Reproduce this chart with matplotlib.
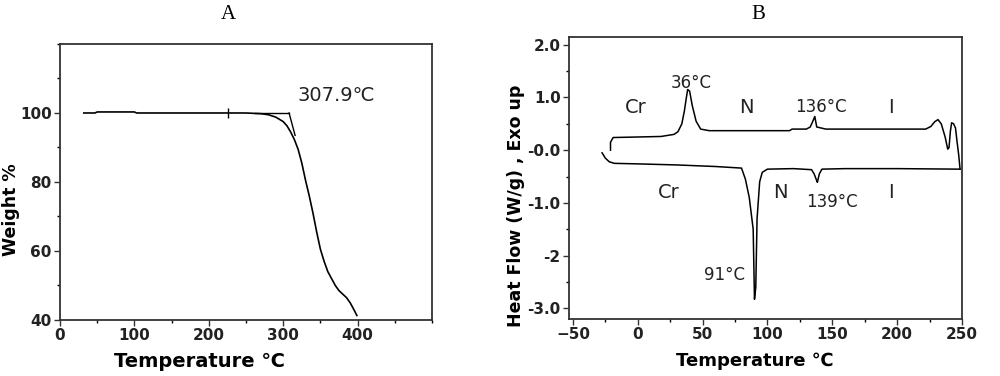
# TGA (A) and DSC (B) curves
import numpy as np
import matplotlib.pyplot as plt
from matplotlib.ticker import MultipleLocator

# --- A: TGA weight loss ---
temp_a = [32, 47, 50, 100, 103, 150, 200, 250, 270, 280, 290, 300, 305, 310, 315,
          320, 325, 330, 335, 340, 345, 350, 355, 360, 365, 370, 375, 380, 385,
          390, 395, 399]
weight_a = [100, 100, 100.3, 100.3, 100, 100, 100, 100, 99.8, 99.5, 98.8, 97.5, 96.3,
            94.5, 92.3, 89.5, 85.5, 80.5, 76, 71, 65.5, 60.5, 57, 54, 52, 50, 48.5,
            47.5, 46.5, 45, 43, 41.3]
onset_base_x = [262, 307.9]
onset_base_y = [100, 100]
onset_tan_x = [307.9, 316]
onset_tan_y = [100, 93.5]
onset_label = '307.9℃'

# --- B: DSC heat flow ---
heat_x = [-21, -21, -19, 0, 18, 28, 31, 34, 36, 37.5, 38.5, 40, 42, 45, 48.5, 55, 80,
          117, 119, 130, 133, 135, 136.5, 138, 145, 180, 222, 226, 229, 231.5, 234,
          237, 239, 240, 241, 242, 243.5, 245, 246, 247.5, 248.5]
heat_y = [0.0, 0.15, 0.24, 0.25, 0.26, 0.30, 0.35, 0.50, 0.75, 1.0, 1.15, 1.12, 0.85,
          0.55, 0.40, 0.37, 0.37, 0.37, 0.40, 0.40, 0.44, 0.55, 0.64, 0.44, 0.40, 0.40,
          0.40, 0.45, 0.54, 0.58, 0.50, 0.25, 0.02, 0.05, 0.35, 0.52, 0.50, 0.42,
          0.20, -0.10, -0.36]
cool_x = [-27.5, -25, -22, -18, 0, 30, 60, 80, 83, 86, 88, 89, 90, 91, 92, 94, 96,
          100, 120, 134, 136, 138, 138.5, 140, 142, 160, 200, 248.5]
cool_y = [-0.05, -0.15, -0.22, -0.25, -0.26, -0.28, -0.31, -0.34, -0.55, -0.9, -1.3,
          -1.5, -2.83, -2.6, -1.3, -0.6, -0.42, -0.36, -0.35, -0.37, -0.45, -0.58,
          -0.61, -0.45, -0.36, -0.35, -0.35, -0.36]
labels_b = [('36°C', 41.5, 1.28), ('Cr', -1.5, 0.81), ('N', 84, 0.81),
            ('136°C', 141.5, 0.81), ('I', 195, 0.81),
            ('Cr', 24, -0.80), ('N', 110, -0.80), ('139°C', 150, -0.99),
            ('I', 195, -0.80), ('91°C', 67, -2.36)]
yticks_b = [2.0, 1.0, 0.0, -1.0, -2.0, -3.0]
yticklabels_b = ['2.0', '1.0', '-0.0', '-1.0', '-2', '-3.0']

plt.rcParams['font.family'] = 'DejaVu Sans'
fig = plt.figure(figsize=(10, 3.76), dpi=100)
ax1 = fig.add_axes([0.060, 0.149, 0.372, 0.734])
ax2 = fig.add_axes([0.569, 0.152, 0.393, 0.750])


def style(ax):
    for s in ax.spines.values():
        s.set_linewidth(1.3)
        s.set_color('#333333')
    ax.tick_params(which='major', direction='out', length=4, width=1, labelsize=11,
                   colors='#333333', pad=2)
    ax.tick_params(which='minor', direction='out', length=2.5, width=1)
    for lab in ax.get_xticklabels() + ax.get_yticklabels():
        lab.set_fontweight('bold')
        lab.set_color('#222222')


# panel A
ax1.plot(temp_a, weight_a, color='black', lw=1.2)
ax1.plot(onset_base_x, onset_base_y, color='black', lw=1.0)
ax1.plot(onset_tan_x, onset_tan_y, color='black', lw=1.0)
ax1.plot([226], [100], marker='|', color='black', ms=7)
ax1.text(319, 103.5, onset_label, fontsize=14, color='#222222')
ax1.set_xlim(0, 500)
ax1.set_ylim(40, 120)
ax1.set_xticks([0, 100, 200, 300, 400])
ax1.set_yticks([40, 60, 80, 100])
ax1.xaxis.set_minor_locator(MultipleLocator(50))
ax1.yaxis.set_minor_locator(MultipleLocator(10))
ax1.set_xlabel('Temperature ℃', fontsize=14, fontweight='bold')
ax1.set_ylabel('Weight %', fontsize=12.5, fontweight='bold')
ax1.xaxis.set_label_coords(0.376, -0.116)
ax1.yaxis.set_label_coords(-0.108, 0.40)
style(ax1)

# panel B
ax2.plot(heat_x, heat_y, color='black', lw=1.1)
ax2.plot(cool_x, cool_y, color='black', lw=1.1)
for txt, x, y in labels_b:
    fs = 14 if txt in ('Cr', 'N', 'I') else 12
    ax2.text(x, y, txt, fontsize=fs, ha='center', va='center', color='#222222')
ax2.set_xlim(-53, 250)
ax2.set_ylim(-3.2, 2.15)
ax2.set_xticks([-50, 0, 50, 100, 150, 200, 250])
ax2.set_yticks(yticks_b)
ax2.set_yticklabels(yticklabels_b)
ax2.xaxis.set_minor_locator(MultipleLocator(25))
ax2.yaxis.set_minor_locator(MultipleLocator(0.5))
ax2.set_xlabel('Temperature ℃', fontsize=13, fontweight='bold')
ax2.set_ylabel('Heat Flow (W/g) , Exo up', fontsize=12.5, fontweight='bold')
ax2.xaxis.set_label_coords(0.473, -0.117)
ax2.yaxis.set_label_coords(-0.113, 0.40)
style(ax2)

fig.text(0.228, 0.962, 'A', family='Liberation Serif', fontsize=15, ha='center', va='center')
fig.text(0.758, 0.962, 'B', family='Liberation Serif', fontsize=15, ha='center', va='center')

fig.savefig('out.png', dpi=100)
